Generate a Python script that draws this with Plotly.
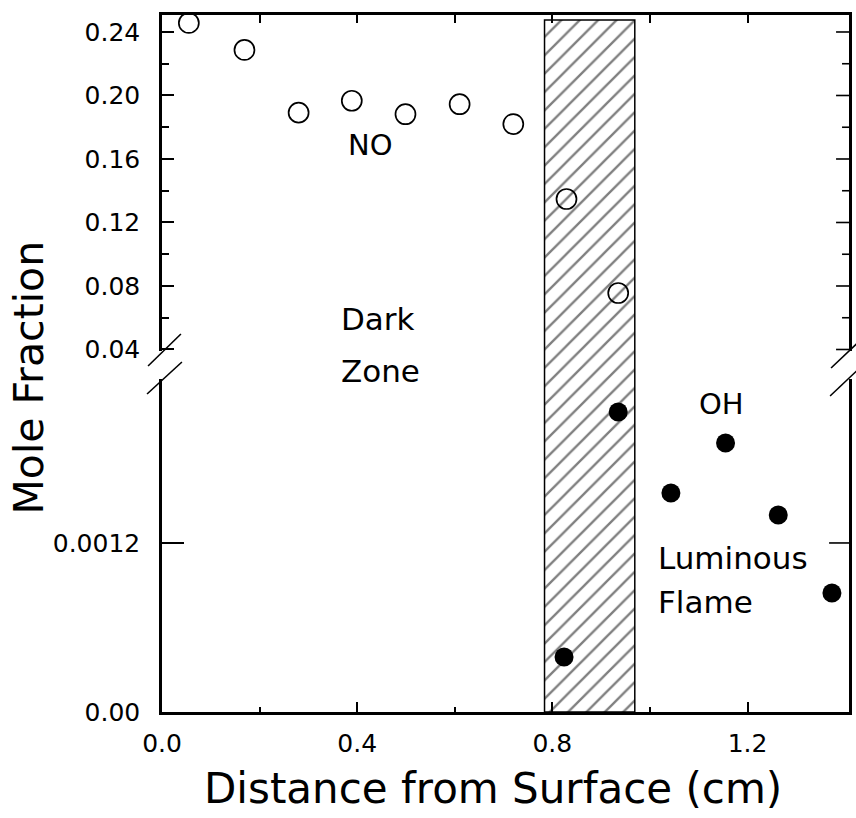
import plotly.graph_objects as go

# Measured profiles above the burning surface
no_distance = [0.055, 0.169, 0.280, 0.389, 0.499, 0.610, 0.720, 0.829, 0.935]
no_fraction = [0.2457, 0.2287, 0.1892, 0.1967, 0.1882, 0.1945, 0.1820, 0.1348, 0.0756]

oh_distance = [0.824, 0.935, 1.043, 1.155, 1.263, 1.373]
oh_fraction = [0.000391, 0.00213, 0.001555, 0.00191, 0.001399, 0.000845]

# Transition region between dark zone and luminous flame
band_x = [0.784, 0.969]

x_ticks = [0.0, 0.4, 0.8, 1.2]
x_ticktext = ["0.0", "0.4", "0.8", "1.2"]
low_ticks = [0.0, 0.0012]
low_ticktext = ["0.00", "0.0012"]
up_major = [0.04, 0.08, 0.12, 0.16, 0.20, 0.24]
up_minor = [0.06, 0.10, 0.14, 0.18, 0.22]

W, H = 856, 818
L, R, T, B = 162, 4, 15, 106
PW, PH = W - L - R, H - T - B
X_RANGE = [0, 1.408]


def px(xp, yp):
    """Pixel position -> paper coordinates."""
    return (xp - L) / PW, (H - B - yp) / PH


FONT = "DejaVu Sans"
low_dom = [0, px(0, 379)[1]]
up_dom = [px(0, 351)[1], 1]
low_range = [0, 0.002364]
up_range = [0.03905, 0.2507]

fig = go.Figure()

# hatched band (spans both segments of the broken axis)
bx0, bx1 = band_x
band_top = px(0, 20)[1]
fig.add_trace(go.Scatter(
    x=[bx0, bx1, bx1, bx0, bx0], y=[0, 0, band_top, band_top, 0],
    xaxis="x", yaxis="y3", mode="lines", fill="toself",
    fillcolor="rgba(255,255,255,0)",
    fillpattern=dict(shape="/", size=13, solidity=0.18, fgcolor="black",
                     bgcolor="rgba(255,255,255,0)"),
    line=dict(color="black", width=1.5), hoverinfo="skip", showlegend=False))

fig.add_trace(go.Scatter(
    x=no_distance, y=no_fraction, xaxis="x2", yaxis="y2", mode="markers",
    marker=dict(symbol="circle-open", size=20, color="black", line=dict(width=1.7)),
    cliponaxis=False, showlegend=False, name="NO"))

fig.add_trace(go.Scatter(
    x=oh_distance, y=oh_fraction, xaxis="x", yaxis="y", mode="markers",
    marker=dict(symbol="circle", size=19, color="black"),
    cliponaxis=False, showlegend=False, name="OH"))

axis_common = dict(showline=True, linecolor="black", linewidth=2.5, showgrid=False,
                   zeroline=False, ticks="inside", tickcolor="black", tickwidth=1.5,
                   tickfont=dict(family=FONT, size=25, color="black"))

fig.update_layout(
    width=W, height=H, margin=dict(l=L, r=R, t=T, b=B),
    paper_bgcolor="white", plot_bgcolor="rgba(0,0,0,0)",
    xaxis=dict(**axis_common, range=X_RANGE, anchor="y", tickvals=x_ticks,
               ticktext=x_ticktext, ticklen=10, ticklabelstandoff=7,
               minor=dict(ticks="inside", ticklen=5, tickvals=[0.2, 0.6, 1.0],
                          tickcolor="black")),
    xaxis2=dict(**axis_common, matches="x", anchor="y2", side="top",
                showticklabels=False, tickvals=[0.2, 0.4, 0.6, 0.8, 1.0, 1.2],
                ticklen=8),
    yaxis=dict(**axis_common, domain=low_dom, range=low_range, anchor="x",
               tickvals=low_ticks, ticktext=low_ticktext, ticklen=22,
               ticklabelstandoff=14, mirror=True),
    yaxis2=dict(**axis_common, domain=up_dom, range=up_range, anchor="x2",
                tickvals=up_major, tickformat=".2f", ticklen=12,
                ticklabelstandoff=14, mirror=True,
                minor=dict(ticks="inside", ticklen=7, tickvals=up_minor,
                           tickcolor="black")),
    yaxis3=dict(domain=[0, 1], range=[0, 1], anchor="x", visible=False),
)


def to_paper(value, dom, rng):
    """Axis value -> paper y through that axis' domain and range."""
    return dom[0] + (value - rng[0]) / (rng[1] - rng[0]) * (dom[1] - dom[0])


# inward ticks on the right-hand frame
def right_tick(value, dom, rng, length):
    yy = to_paper(value, dom, rng)
    fig.add_shape(type="line", xref="paper", yref="paper", x0=1,
                  x1=1 - length / PW, y0=yy, y1=yy,
                  line=dict(color="black", width=1.6))


right_tick(low_ticks[1], low_dom, low_range, 20)
for v in up_major:
    right_tick(v, up_dom, up_range, 13)
for v in up_minor:
    right_tick(v, up_dom, up_range, 7)

# axis break marks
breaks = [((148, 366), (181, 334)), ((147, 394), (182, 362)),
          ((834, 368), (868, 336)), ((833, 396), (867, 364))]
for (a, b) in breaks:
    x0, y0 = px(*a)
    x1, y1 = px(*b)
    fig.add_shape(type="line", xref="paper", yref="paper", x0=x0, y0=y0, x1=x1, y1=y1,
                  line=dict(color="black", width=1.6))


def label(text, xp, yp, size=31, xanchor="center", angle=0):
    xx, yy = px(xp, yp)
    fig.add_annotation(text=text, x=xx, y=yy, xref="paper", yref="paper",
                       xanchor=xanchor, yanchor="middle", showarrow=False,
                       textangle=angle, font=dict(family=FONT, size=size, color="black"))


label("NO", 371, 145, size=29)
label("Dark", 340, 319, xanchor="left")
label("Zone", 340, 371, xanchor="left")
label("OH", 724, 404, size=29)
label("Luminous", 658, 558, xanchor="left")
label("Flame", 658, 602, xanchor="left")
label("Mole Fraction", 28, 378, size=41, angle=-90)
label("Distance from Surface (cm)", 494, 788, size=42)

fig.write_html("out.html")
